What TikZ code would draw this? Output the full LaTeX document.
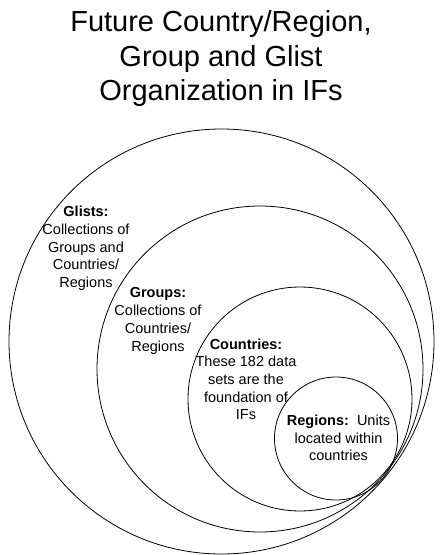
\documentclass[tikz,border=0pt]{standalone}
\usepackage{fontspec}
\setmainfont{Liberation Sans}
\begin{document}
\begin{tikzpicture}[x=1pt,y=-1pt,
  ring/.style={draw=black,line width=0.8pt},
  ttl/.style={anchor=base,inner sep=0pt,font=\fontsize{29}{34}\selectfont},
  txt/.style={anchor=base,inner sep=0pt,font=\fontsize{14.5}{17.7}\selectfont}]
\useasboundingbox (0,0) rectangle (444,555);
% title
\node[ttl] (t1) at (221,31.7) {Future Country/Region,};
\node[ttl] (t2) at (221,66.2) {Group and Glist};
\node[ttl] (t3) at (221,100.7) {Organization in IFs};
% circles
\draw[ring] (221.5,341.5) circle[radius=212.5pt];
\draw[ring] (260,369) circle[radius=163pt];
\draw[ring] (300,399) circle[radius=112pt];
\draw[ring] (336,438.5) circle[radius=61.5pt];
% glists
\node[txt] (g1) at (86,216.7) {\textbf{Glists:}};
\node[txt] (g2) at (86,234.4) {Collections of};
\node[txt] (g3) at (86,252.1) {Groups and};
\node[txt] (g4) at (86,269.8) {Countries/};
\node[txt] (g5) at (86,287.5) {Regions};
% groups
\node[txt] (r1) at (158,297.7) {\textbf{Groups:}};
\node[txt] (r2) at (158,315.7) {Collections of};
\node[txt] (r3) at (158,333.7) {Countries/};
\node[txt] (r4) at (158,351.7) {Regions};
% countries
\node[txt] (c1) at (246,349) {\textbf{Countries:}};
\node[txt] (c2) at (246,366.7) {These 182 data};
\node[txt] (c3) at (246,384.4) {sets are the};
\node[txt] (c4) at (246,402.1) {foundation of};
\node[txt] (c5) at (246,419.8) {IFs};
% regions
\node[txt] (e1) at (338.5,425.7) {\textbf{Regions:}\ \ Units};
\node[txt] (e2) at (338.5,443) {located within};
\node[txt] (e3) at (338.5,460) {countries};
\end{tikzpicture}
\end{document}
